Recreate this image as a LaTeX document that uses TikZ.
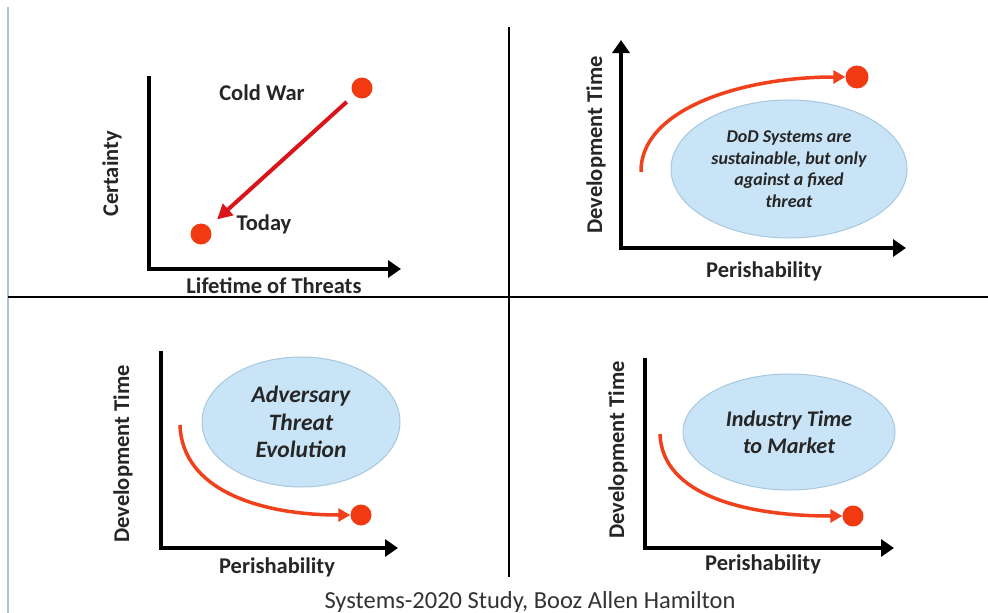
\documentclass[tikz,border=0pt]{standalone}
\usepackage{fontspec}
\setmainfont{Carlito}
\usetikzlibrary{arrows.meta,shapes.geometric}
\definecolor{dotred}{HTML}{F23A12}
\definecolor{curvered}{HTML}{F0401C}
\definecolor{arrred}{HTML}{D9141B}
\definecolor{ellfill}{HTML}{C8E4F6}
\definecolor{elldraw}{HTML}{A8C8DE}
\definecolor{borderc}{HTML}{B4C0D4}
\begin{document}
\begin{tikzpicture}[x=1pt,y=-1pt,
  axisline/.style={line width=4pt,-{Triangle[length=13pt,width=17pt]}},
  plainaxis/.style={line width=4pt},
  divider/.style={line width=2pt,black},
  reddot/.style={circle,fill=dotred,inner sep=0pt,minimum size=21pt},
  redcurve/.style={curvered,line width=3.5pt,-{Triangle[length=12pt,width=13pt]}},
  redline/.style={arrred,line width=4pt,-{Triangle[length=15pt,width=15pt]}},
  lbl/.style={font=\fontsize{22.5}{24}\selectfont\bfseries,text=black!85,inner sep=0pt},
  bubble/.style={ellipse,fill=ellfill,draw=elldraw,line width=1pt,align=center,inner sep=0pt,text=black!85},
  caption/.style={font=\fontsize{24.5}{26}\selectfont,text=black!80,inner sep=0pt}
]
\useasboundingbox (0,0) rectangle (988,613);
\fill[white] (0,0) rectangle (988,613);

% frame and dividers
\coordinate (bt) at (8,7);
\coordinate (bb) at (8,613);
\draw[borderc,line width=1.2pt] (bt) -- (bb);
\coordinate (hl) at (8,297);
\coordinate (hr) at (988,297);
\draw[divider] (hl) -- (hr);
\coordinate (vt) at (509,27);
\coordinate (vb) at (509,577);
\draw[divider] (vt) -- (vb);

% ---------- top-left ----------
\coordinate (y1) at (149,76);
\coordinate (x1) at (401,269);
\draw[plainaxis] (y1) -- (149,271);
\draw[axisline] (147,269) -- (x1);
\node[lbl,rotate=90] (cert) at (112,174) {Certainty};
\node[lbl] (lt) at (274,286) {Lifetime of Threats};
\node[reddot] (cw) at (362,88) {};
\node[reddot] (td) at (201,234) {};
\node[lbl] (cwl) at (262,93) {Cold War};
\node[lbl] (tdl) at (264,224) {Today};
\draw[redline,shorten <=10pt,shorten >=11pt] (cw) -- (td);

% ---------- top-right ----------
\coordinate (y2) at (621,40);
\coordinate (x2) at (906,248);
\draw[axisline] (621,250) -- (y2);
\draw[axisline] (619,248) -- (x2);
\node[lbl,rotate=90] (dt2) at (596,145) {Development Time};
\node[lbl] (p2) at (764,271) {Perishability};
\node[bubble,minimum width=236pt,minimum height=138pt,font=\fontsize{18}{21.5}\selectfont\bfseries\itshape] (e2) at (789,169)
  {DoD Systems are\\sustainable, but only\\against a fixed\\threat};
\node[reddot,minimum size=23pt] (d2) at (857,77) {};
\coordinate (s2) at (641,172);
\draw[redcurve] (s2) .. controls (640,110) and (740,77) .. (d2.west);

% ---------- bottom-left ----------
\coordinate (y3) at (161,351);
\coordinate (x3) at (398,548);
\draw[plainaxis] (y3) -- (161,550);
\draw[axisline] (159,548) -- (x3);
\node[lbl,rotate=90] (dt3) at (123,454) {Development Time};
\node[lbl] (p3) at (277,567) {Perishability};
\node[bubble,minimum width=198pt,minimum height=130pt,font=\fontsize{23.5}{27.5}\selectfont\bfseries\itshape] (e3) at (301,422)
  {Adversary\\Threat\\Evolution};
\node[reddot] (d3) at (361,515) {};
\coordinate (s3) at (180,425);
\draw[redcurve] (s3) .. controls (182,490) and (260,515) .. (d3.west);

% ---------- bottom-right ----------
\coordinate (y4) at (645,358);
\coordinate (x4) at (894,548);
\draw[plainaxis] (y4) -- (645,550);
\draw[axisline] (643,548) -- (x4);
\node[lbl,rotate=90] (dt4) at (618,450) {Development Time};
\node[lbl] (p4) at (763,564) {Perishability};
\node[bubble,minimum width=212pt,minimum height=116pt,font=\fontsize{22.3}{27}\selectfont\bfseries\itshape] (e4) at (789,432)
  {Industry Time\\to Market};
\node[reddot] (d4) at (853,516) {};
\coordinate (s4) at (660,434);
\draw[redcurve] (s4) .. controls (662,495) and (745,516) .. (d4.west);

% caption
\node[caption] (cap) at (530,602) {Systems-2020 Study, Booz Allen Hamilton};
\end{tikzpicture}
\end{document}
